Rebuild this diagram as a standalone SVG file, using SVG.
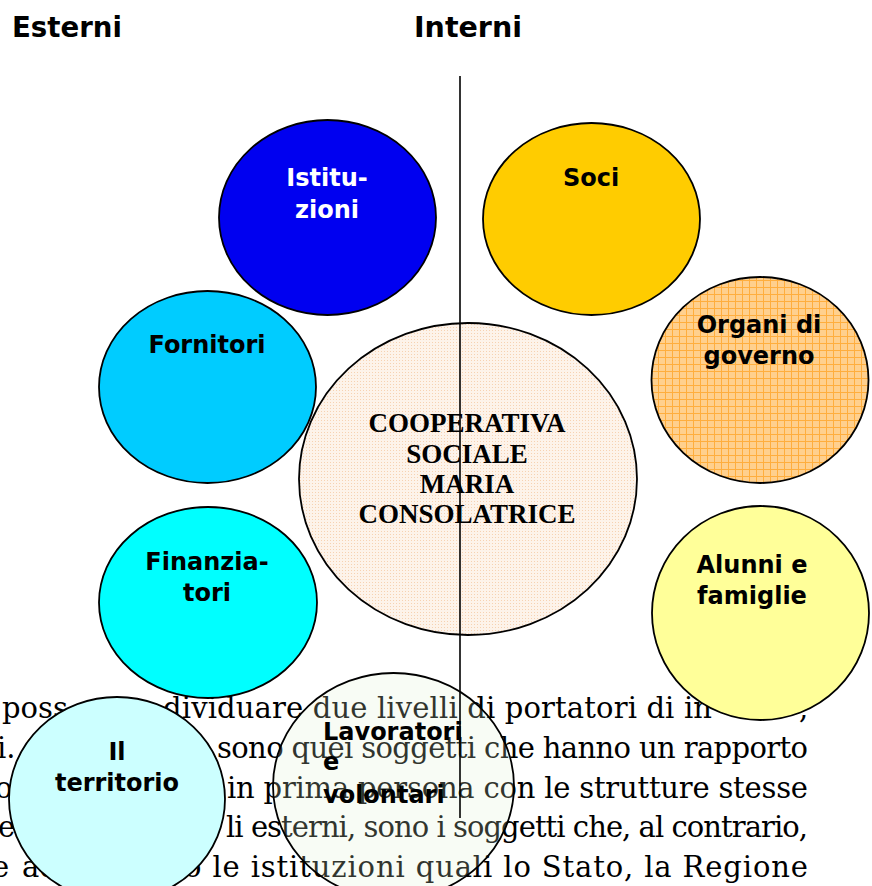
<svg xmlns="http://www.w3.org/2000/svg" width="872" height="886" viewBox="0 0 872 886">
<defs>
<style>
.h{font-family:"DejaVu Sans","Liberation Sans",sans-serif;font-weight:bold;font-size:29px;fill:#000}
.l{font-family:"DejaVu Sans","Liberation Sans",sans-serif;font-weight:bold;font-size:24px;fill:#000;text-anchor:middle}
.la{font-family:"DejaVu Sans","Liberation Sans",sans-serif;font-weight:bold;font-size:24px;fill:#000}
.c{font-family:"Liberation Serif","Times New Roman",serif;font-weight:bold;font-size:27px;fill:#000;text-anchor:middle}
.p{font-family:"DejaVu Serif","Liberation Serif",serif;font-size:29px;fill:#000}
.e{stroke:#000;stroke-width:1.8}
</style>
<pattern id="grid" width="7" height="7" patternUnits="userSpaceOnUse">
<rect width="7" height="7" fill="#FFD08E"/>
<path d="M0 0.5H7M0.5 0V7" stroke="#FFAE3E" stroke-width="1"/>
</pattern>
<pattern id="dots" width="3" height="3" patternUnits="userSpaceOnUse">
<rect width="3" height="3" fill="#FDF3EA"/>
<rect width="1" height="1" fill="#F6D2B2"/>
</pattern>
</defs>
<rect width="872" height="886" fill="#fff"/>

<g id="headings">
<text class="h" x="12" y="37" textLength="110" lengthAdjust="spacingAndGlyphs">Esterni</text>
<text class="h" x="414" y="37" textLength="108" lengthAdjust="spacingAndGlyphs">Interni</text>
</g>

<g id="paragraph">
<text class="p" x="2" y="718">poss</text>
<text class="p" x="163" y="718" textLength="549" lengthAdjust="spacing">dividuare due livelli di portatori di in</text>
<text class="p" x="799" y="718">,</text>
<text class="p" x="-3" y="758">i. G</text>
<text class="p" x="217" y="758" textLength="591" lengthAdjust="spacing">sono quei soggetti che hanno un rapporto</text>
<text class="p" x="-5" y="798">o</text>
<text class="p" x="227" y="798" textLength="581" lengthAdjust="spacing">in prima persona con le strutture stesse</text>
<text class="p" x="-2" y="837">el</text>
<text class="p" x="226" y="837" textLength="582" lengthAdjust="spacing">li esterni, sono i soggetti che, al contrario,</text>
<text class="p" x="-8" y="877">e</text>
<text class="p" x="22" y="877">ad</text>
<text class="p" x="184" y="877" textLength="624" lengthAdjust="spacing">o le istituzioni quali lo Stato, la Regione</text>
</g>

<g id="istituzioni">
<ellipse class="e" cx="327.5" cy="217.5" rx="108.5" ry="97.5" fill="#0000F0"/>
<text class="l" x="327" y="186" style="fill:#fff">Istitu-</text>
<text class="l" x="327" y="218" style="fill:#fff">zioni</text>
</g>

<g id="soci">
<ellipse class="e" cx="591.5" cy="219" rx="108.5" ry="96" fill="#FFCC00"/>
<text class="l" x="591" y="186">Soci</text>
</g>

<g id="fornitori">
<ellipse class="e" cx="207.5" cy="387" rx="108.5" ry="96" fill="#00CCFF"/>
<text class="l" x="207" y="353">Fornitori</text>
</g>

<g id="organi">
<ellipse class="e" cx="760" cy="380" rx="108.5" ry="103" fill="url(#grid)"/>
<text class="l" x="759" y="333">Organi di</text>
<text class="l" x="759" y="364">governo</text>
</g>

<g id="cooperativa">
<ellipse class="e" cx="468" cy="479" rx="169" ry="156" fill="url(#dots)"/>
<text class="c" x="467" y="432">COOPERATIVA</text>
<text class="c" x="467" y="463">SOCIALE</text>
<text class="c" x="467" y="493">MARIA</text>
<text class="c" x="467" y="523">CONSOLATRICE</text>
</g>

<g id="finanziatori">
<ellipse class="e" cx="208" cy="602.5" rx="109" ry="95.5" fill="#00FFFF"/>
<text class="l" x="207" y="570">Finanzia-</text>
<text class="l" x="207" y="601">tori</text>
</g>

<g id="alunni">
<ellipse class="e" cx="760.5" cy="613" rx="108.5" ry="107" fill="#FFFF99"/>
<text class="l" x="752" y="573">Alunni e</text>
<text class="l" x="752" y="604">famiglie</text>
</g>

<g id="territorio">
<ellipse class="e" cx="117" cy="799" rx="108" ry="102" fill="#CCFFFF"/>
<text class="l" x="117" y="760">Il</text>
<text class="l" x="117" y="791">territorio</text>
</g>

<g id="lavoratori">
<ellipse class="e" cx="393.5" cy="786" rx="120.5" ry="113" fill="#DDF3D2" fill-opacity="0.22"/>
<text class="la" x="323" y="740">Lavoratori</text>
<text class="la" x="323" y="770">e</text>
<text class="la" x="323" y="803">volontari</text>
</g>

<g id="connectors">
<line x1="460" y1="76" x2="460" y2="818" stroke="#000" stroke-width="1.6"/>
</g>
</svg>
